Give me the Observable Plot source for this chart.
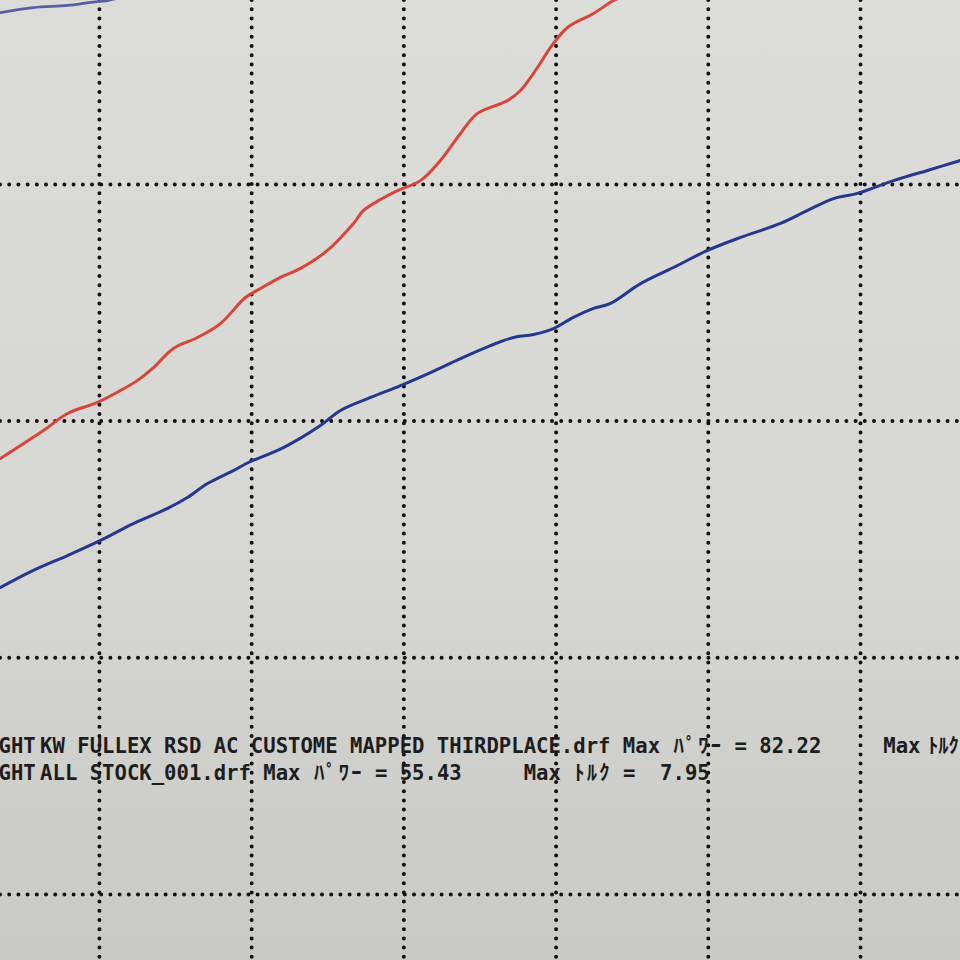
<!DOCTYPE html>
<html>
<head>
<meta charset="utf-8">
<script src="https://cdn.jsdelivr.net/npm/d3@7"></script>
<script src="https://cdn.jsdelivr.net/npm/@observablehq/plot@0.6"></script>
<style>
  html, body { margin: 0; padding: 0; background: #d6d6d3; overflow: hidden; }
  #chart svg { display: block; }
</style>
</head>
<body>
<div id="chart"></div>
<script>
// Grid positions (chart divisions)
const gridX = [1, 2, 3, 4, 5, 6];
const gridY = [0, 1, 2, 3];

// Red curve: THIRDPLACE (mapped) run, in grid units
const redX = [0.350, 0.632, 0.790, 0.987, 1.138, 1.250, 1.355, 1.486, 1.644, 1.795,
              1.959, 2.058, 2.189, 2.321, 2.498, 2.669, 2.735, 2.846, 2.958, 3.109,
              3.240, 3.372, 3.484, 3.681, 3.766, 3.878, 3.963, 4.075, 4.246, 4.377, 4.456];
const redY = [1.842, 1.960, 2.032, 2.079, 2.129, 2.172, 2.226, 2.307, 2.353, 2.412,
              2.522, 2.560, 2.607, 2.645, 2.721, 2.835, 2.890, 2.936, 2.974, 3.016,
              3.101, 3.215, 3.300, 3.354, 3.397, 3.494, 3.578, 3.663, 3.722, 3.777, 3.798];

// Blue curve: ALL STOCK run
const blueX = [0.350, 0.566, 0.790, 1.007, 1.223, 1.447, 1.578, 1.710, 1.880, 1.979,
               2.209, 2.452, 2.583, 2.781, 2.978, 3.175, 3.372, 3.569, 3.720, 3.852,
               3.983, 4.114, 4.246, 4.357, 4.555, 4.771, 4.995, 5.212, 5.474, 5.652,
               5.823, 5.980, 6.217, 6.440, 6.657];
const blueY = [1.297, 1.369, 1.432, 1.496, 1.567, 1.631, 1.677, 1.736, 1.791, 1.825,
               1.888, 1.981, 2.045, 2.100, 2.150, 2.205, 2.264, 2.319, 2.353, 2.366,
               2.391, 2.438, 2.476, 2.497, 2.581, 2.649, 2.721, 2.776, 2.835, 2.890,
               2.940, 2.962, 3.016, 3.059, 3.101];

// Upper blue curve (top-left corner)
const topX = [0.350, 0.566, 0.790, 0.941, 1.053, 1.138];
const topY = [3.726, 3.747, 3.756, 3.769, 3.777, 3.790];

// Printed legend lines (segments; katakana segments are half-width)
const legendLine1 = ["GHT", " KW FULLEX RSD AC CUSTOME MAPPED THIRDPLACE.drf Max ", "ﾊﾟﾜｰ", " = 82.22     Max ", "ﾄﾙｸ"];
const legendLine2 = ["GHT", " ALL STOCK_001.drf Max ", "ﾊﾟﾜｰ", " = 55.43     Max ", "ﾄﾙｸ", " =  7.95"];

const toRows = (xs, ys) => xs.map((x, i) => ({x, y: ys[i]}));

const CELL = 12.4, START = -10, FS = 20.6, INK = "#1d1d1d";
const isKana = s => /[\uFF61-\uFF9F]/.test(s);
function legendMarks(segments, yMid, edgeKana) {
  const marks = [];
  let col = 0;
  segments.forEach((seg, si) => {
    const last = si === segments.length - 1;
    if (isKana(seg) && !(last && edgeKana)) {
      for (const ch of seg) {
        marks.push(Plot.text([ch], {
          text: d => d, frameAnchor: "top-left", dx: START + col * CELL + CELL / 2, dy: yMid,
          textAnchor: "middle", lineAnchor: "middle",
          fontFamily: "Noto Sans CJK JP", fontSize: FS, fontWeight: 700, fill: INK
        }));
        col += 1;
      }
    } else if (isKana(seg)) {
      // partly visible group at the right edge: natural half-width spacing
      marks.push(Plot.text([seg], {
        text: d => d, frameAnchor: "top-left", dx: START + col * CELL - 5, dy: yMid,
        textAnchor: "start", lineAnchor: "middle",
        fontFamily: "Noto Sans CJK JP", fontSize: FS, fontWeight: 700, fill: INK
      }));
      col += seg.length;
    } else {
      const lead = seg.length - seg.trimStart().length;
      marks.push(Plot.text([seg.trim()], {
        text: d => d, frameAnchor: "top-left",
        dx: si === 0 ? -2 : START + (col + lead) * CELL, dy: yMid,
        textAnchor: "start", lineAnchor: "middle",
        fontFamily: "DejaVu Sans Mono", fontSize: FS, fontWeight: 700, fill: INK
      }));
      col += seg.length;
    }
  });
  return marks;
}

const dotted = {stroke: "#111111", strokeWidth: 4, strokeDasharray: "0 9.2", strokeLinecap: "round"};

const chart = Plot.plot({
  width: 960,
  height: 960,
  margin: 0,
  x: {domain: [0.350, 6.657], axis: null},
  y: {domain: [-0.279, 3.777], axis: null},
  style: {
    background: "linear-gradient(to bottom, #dcdcd9 0%, #d7d7d4 55%, #cfcfcc 80%, #c9c9c6 100%)",
    overflow: "hidden"
  },
  marks: [
    Plot.ruleX(gridX, dotted),
    Plot.ruleY(gridY, dotted),
    Plot.line(toRows(topX, topY), {x: "x", y: "y", stroke: "#5561a3", strokeWidth: 2.8, curve: "catmull-rom", clip: true}),
    Plot.line(toRows(redX, redY), {x: "x", y: "y", stroke: "#d8463b", strokeWidth: 3, curve: "catmull-rom", clip: true}),
    Plot.line(toRows(blueX, blueY), {x: "x", y: "y", stroke: "#23388f", strokeWidth: 3, curve: "catmull-rom", clip: true}),
    ...legendMarks(legendLine1, 746, true),
    ...legendMarks(legendLine2, 773, false)
  ]
});

document.getElementById("chart").appendChild(chart);
</script>
</body>
</html>
